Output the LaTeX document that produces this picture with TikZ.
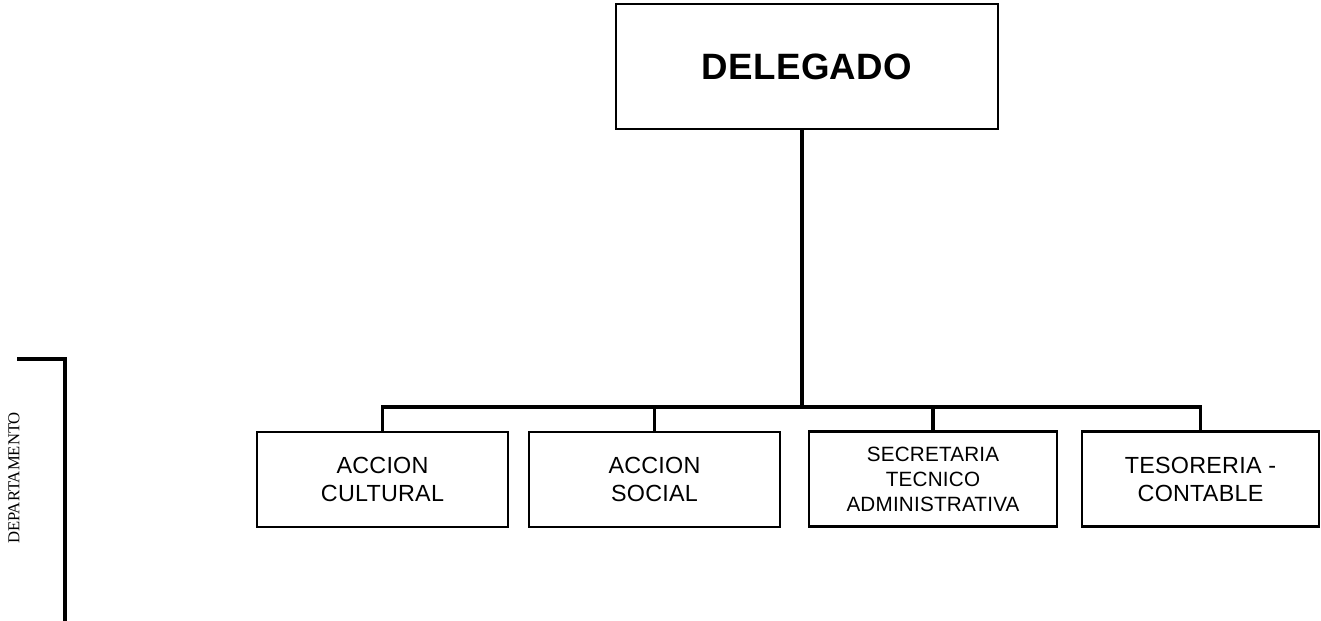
\documentclass[tikz,border=0pt]{standalone}
\usepackage{fontspec}
\setmainfont{Liberation Serif}
\newfontfamily\orgfont[LetterSpace=1]{Liberation Sans}
\usetikzlibrary{positioning}

\begin{document}
\begin{tikzpicture}[x=0.75pt, y=-0.75pt,
	box/.style={draw, line width=1.6pt, inner sep=0pt, outer sep=0pt, align=center, minimum height=71.25pt, font=\orgfont\fontsize{17.5}{21}\selectfont},
	link/.style={line width=2.4pt}]
	\useasboundingbox (0,0) rectangle (1321,621);
	
	% DELEGADO
	\node[box, minimum width=286.5pt, minimum height=93.75pt, font=\orgfont\bfseries\fontsize{27.5}{32}\selectfont] (delegado) at (807,66.5) {DELEGADO};
	
	% departamentos
	\node[box, minimum width=188.25pt] (cultural) at (382.5,479.5) {ACCION\\CULTURAL};
	\node[box, minimum width=188.25pt] (social) at (654.5,479.5) {ACCION\\SOCIAL};
	\node[box, minimum width=186pt, font=\orgfont\fontsize{15.5}{18.75}\selectfont] (secretaria) at (933,479) {SECRETARIA\\TECNICO\\ADMINISTRATIVA};
	\node[box, minimum width=177.75pt] (tesoreria) at (1200.5,479) {TESORERIA -\\CONTABLE};
	
	% lineas
	\coordinate (bus) at (802,407);
	\draw[link] (delegado.south -| bus) -- (bus);
	\draw[link] (cultural.north) |- (bus) -| (tesoreria.north);
	\draw[link] (social.north) -- (social.north |- bus);
	\draw[link] (secretaria.north) -- (secretaria.north |- bus);
	
	% DEPARTAMENTO
	\coordinate (B1) at (17,359);
	\coordinate (B2) at (65,359);
	\coordinate (B3) at (65,621);
	\draw[link] (B1) -- (B2) -- (B3);
	\node[rotate=90, font=\fontsize{12.5}{14}\selectfont] (departamento) at (14,478) {DEPARTAMENTO};
\end{tikzpicture}
\end{document}
